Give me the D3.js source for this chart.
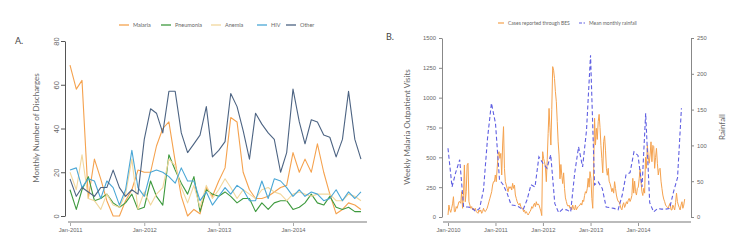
<!DOCTYPE html>
<html>
<head>
<meta charset="utf-8">
<script src="https://cdn.jsdelivr.net/npm/d3@7"></script>
<style>
  body { margin: 0; background: #fff; }
  svg { display: block; font-family: Lato, "Open Sans", sans-serif; }
</style>
</head>
<body>
<svg id="chart" width="750" height="250"></svg>
<script>
(() => {

  // ---- data, panel A: monthly discharges, Jan-2011 .. Dec-2014
  const startA = new Date(2011, 0, 1);
  const seriesNamesA = ['Malaria', 'Pneumonia', 'Anemia', 'HIV', 'Other'];
  const malaria   = [69,58,62,8,26,17,7,0,0,7,12,21,20,20,32,40,43,25,9,0,3,1,13,9,16,22,45,43,20,12,8,8,9,11,13,14,29,20,26,20,33,20,10,1,3,6,5,3];
  const pneumonia = [12,3,12,18,7,8,10,6,4,6,10,3,4,16,9,5,28,21,15,10,18,2,12,10,9,11,9,6,8,8,2,6,3,6,7,7,3,4,6,10,6,5,9,4,3,4,2,2];
  const anemia    = [20,12,28,8,7,3,10,5,4,10,26,3,11,5,10,13,26,23,13,6,14,4,14,8,12,17,13,8,12,10,8,12,13,11,10,7,10,11,10,9,10,10,10,7,7,10,9,7];
  const hiv       = [21,22,13,17,16,8,16,13,5,12,30,13,9,20,21,20,18,15,22,16,16,7,11,5,9,13,10,14,12,7,7,16,8,17,16,13,9,12,9,11,10,7,8,12,7,11,8,11];
  const other     = [17,9,13,11,9,13,13,21,13,9,12,10,35,49,47,38,57,57,38,29,33,37,50,27,30,34,56,50,39,26,47,42,38,35,20,29,58,43,33,44,43,37,36,27,35,57,35,26];
  const yTicksA = [0, 20, 40, 60, 80];
  const xTicksA = ['Jan-2011', 'Jan-2012', 'Jan-2013', 'Jan-2014'];

  // ---- data, panel B: weekly malaria visits (from Jan-2010) and monthly rainfall
  const startB = new Date(2010, 0, 1);
  const seriesNamesB = ['Cases reported through BES', 'Mean monthly rainfall'];
  const weeklyCases = [
    17,100,59,39,73,110,170,45,45,87,
    73,100,128,128,115,212,73,180,436,128,
    212,436,450,128,100,73,87,59,73,59,
    73,45,40,31,59,45,59,31,45,73,
    50,45,59,73,100,128,156,184,212,268,
    296,296,352,296,408,520,547,491,533,352,
    603,757,408,296,268,240,212,254,240,254,
    226,282,240,268,184,156,128,110,100,115,
    87,73,73,45,59,31,45,30,17,31,
    45,59,87,73,100,115,87,128,100,110,
    100,73,50,12,547,490,463,420,296,480,
    700,910,750,603,900,1260,1230,1160,1050,966,
    800,630,520,320,440,350,280,370,240,160,
    130,100,90,100,73,85,60,100,70,59,
    100,60,75,87,95,100,115,100,142,130,
    180,212,200,240,324,250,380,324,156,73,
    408,827,603,743,650,800,860,750,600,490,
    370,631,680,560,408,350,408,300,280,250,
    212,240,200,296,240,184,150,130,128,100,
    73,60,100,120,80,100,128,110,140,156,
    130,150,180,324,200,300,212,184,240,250,
    320,400,300,212,180,240,200,500,408,600,
    500,450,520,630,463,600,590,408,500,575,
    450,352,400,408,300,240,184,150,128,100,
    90,80,73,100,115,60,59,100,80,59,
    120,200,130,100,80,59,100,128,73,100,150
  ];
  const rainfall = [96,42,62,80,14,14,13,8,12,38,110,159,131,52,45,33,17,16,14,10,24,45,42,84,75,68,87,19,6,11,10,7,61,98,70,121,226,45,49,40,14,13,12,10,30,59,62,91,86,42,145,20,7,12,11,11,12,35,55,152];
  const yTicksB = [0, 250, 500, 750, 1000, 1250, 1500];
  const yTicksRain = [0, 50, 100, 150, 200, 250];
  const xTicksB = ['Jan-2010', 'Jan-2011', 'Jan-2012', 'Jan-2013', 'Jan-2014'];

  const colorsA = ['#f5a24e', '#3e9a3e', '#f2d79c', '#4aa7d6', '#4d6483'];
  const orange = '#f5a24e';
  const blue = '#5f5fe2';
  const textColor = '#666';

  const parseTick = d3.timeParse('%b-%Y');
  const fmtTick = d3.timeFormat('%b-%Y');

  const svg = d3.select('#chart');

  // ================= panel A =================
  const monthsA = malaria.map((d, i) => d3.timeMonth.offset(startA, i));
  const xA = d3.scaleTime()
    .domain([new Date(2011, 0, 1), new Date(2014, 0, 1)])
    .range([70, 293]);
  const yA = d3.scaleLinear().domain([0, 80]).range([216, 41]);

  const seriesA = [malaria, pneumonia, anemia, hiv, other];
  const lineA = d3.line()
    .x((d, i) => xA(monthsA[i]))
    .y(d => yA(d));

  svg.append('g').selectAll('path')
    .data(seriesA)
    .enter()
    .append('path')
    .attr('fill', 'none')
    .attr('stroke', (d, i) => colorsA[i])
    .attr('stroke-width', 1.1)
    .attr('stroke-linejoin', 'round')
    .attr('d', d => lineA(d));

  // y axis A, rotated labels
  const yAxisA = svg.append('g')
    .attr('transform', `translate(65,0)`)
    .call(d3.axisLeft(yA).tickValues(yTicksA).tickSize(4).tickSizeOuter(0));
  yAxisA.select('.domain').attr('stroke', '#555');
  yAxisA.selectAll('.tick line').attr('stroke', '#555');
  yAxisA.selectAll('.tick text')
    .attr('x', null).attr('dy', null)
    .attr('transform', 'translate(-6.5,0) rotate(-90)')
    .attr('text-anchor', 'middle')
    .attr('fill', textColor)
    .style('font-size', '7.5px');

  // x axis A
  const xAxisA = svg.append('g')
    .attr('transform', 'translate(0,222)')
    .call(d3.axisBottom(xA).tickValues(xTicksA.map(parseTick)).tickFormat(fmtTick).tickSize(4));
  xAxisA.select('.domain').remove();
  xAxisA.append('line')
    .attr('x1', xA.range()[0] - 2).attr('x2', xA(monthsA[monthsA.length - 1]) + 6)
    .attr('stroke', '#bbb').attr('stroke-width', 2);
  xAxisA.selectAll('.tick line').attr('stroke', '#aaa');
  xAxisA.selectAll('.tick text')
    .attr('y', 6)
    .attr('fill', textColor)
    .style('font-size', '5.8px');

  svg.append('text')
    .attr('transform', 'translate(39,128) rotate(-90)')
    .attr('text-anchor', 'middle')
    .attr('fill', textColor)
    .style('font-size', '8px')
    .text('Monthly Number of Discharges');

  svg.append('text')
    .attr('x', 15).attr('y', 44)
    .attr('fill', '#444')
    .style('font-size', '9px')
    .text('A.');

  // legend A
  const legendA = svg.append('g').attr('transform', 'translate(119,25)');
  const legendXA = [0, 42, 92, 138, 167];
  seriesNamesA.forEach((name, i) => {
    const g = legendA.append('g').attr('transform', `translate(${legendXA[i]},0)`);
    g.append('line').attr('x1', 0).attr('x2', 10)
      .attr('stroke', colorsA[i]).attr('stroke-width', 1.3);
    g.append('text').attr('x', 14).attr('dy', '0.35em')
      .attr('fill', textColor).style('font-size', '5.5px').text(name);
  });

  // ================= panel B =================
  const weeksB = weeklyCases.map((d, i) => d3.timeDay.offset(startB, 7 * i));
  const monthsB = rainfall.map((d, i) => d3.timeMonth.offset(startB, i));
  const xB = d3.scaleTime()
    .domain([new Date(2010, 0, 1), new Date(2014, 0, 1)])
    .range([448, 638]);
  const yB = d3.scaleLinear().domain([0, 1500]).range([217, 38]);
  const yRain = d3.scaleLinear().domain([0, 250]).range([217, 38]);

  svg.append('path')
    .datum(weeklyCases)
    .attr('fill', 'none')
    .attr('stroke', orange)
    .attr('stroke-width', 1)
    .attr('d', d3.line().x((d, i) => xB(weeksB[i])).y(d => yB(d)));

  svg.append('path')
    .datum(rainfall)
    .attr('fill', 'none')
    .attr('stroke', blue)
    .attr('stroke-width', 1.1)
    .attr('stroke-dasharray', '4,2.5')
    .attr('d', d3.line().x((d, i) => xB(monthsB[i])).y(d => yRain(d)));

  const styleAxisB = (g) => {
    g.select('.domain').attr('stroke', '#888');
    g.selectAll('.tick line').attr('stroke', '#888');
    g.selectAll('.tick text').attr('fill', textColor).style('font-size', '5.8px');
  };

  svg.append('g')
    .attr('transform', 'translate(442,0)')
    .call(d3.axisLeft(yB).tickValues(yTicksB).tickFormat(d3.format('d')).tickSize(3).tickSizeOuter(0))
    .call(styleAxisB);

  svg.append('g')
    .attr('transform', 'translate(691,0)')
    .call(d3.axisRight(yRain).tickValues(yTicksRain).tickFormat(d3.format('d')).tickSize(3).tickSizeOuter(0))
    .call(styleAxisB);

  const xAxisB = svg.append('g')
    .attr('transform', 'translate(0,222)')
    .call(d3.axisBottom(xB).tickValues(xTicksB.map(parseTick)).tickFormat(fmtTick).tickSize(4));
  xAxisB.select('.domain').remove();
  xAxisB.append('line')
    .attr('x1', 443).attr('x2', 691)
    .attr('stroke', '#bbb').attr('stroke-width', 2);
  xAxisB.selectAll('.tick line').attr('stroke', '#999');
  xAxisB.selectAll('.tick text')
    .attr('y', 6)
    .attr('fill', textColor)
    .style('font-size', '5.8px');

  svg.append('text')
    .attr('transform', 'translate(410,127) rotate(-90)')
    .attr('text-anchor', 'middle')
    .attr('fill', textColor)
    .style('font-size', '8px')
    .text('Weekly Malaria Outpatient Visits');

  svg.append('text')
    .attr('transform', 'translate(725,127) rotate(-90)')
    .attr('text-anchor', 'middle')
    .attr('fill', textColor)
    .style('font-size', '8px')
    .text('Rainfall');

  svg.append('text')
    .attr('x', 386).attr('y', 40)
    .attr('fill', '#444')
    .style('font-size', '9px')
    .text('B.');

  // legend B
  const legendB = svg.append('g').attr('transform', 'translate(498,23)');
  const legendXB = [0, 81];
  seriesNamesB.forEach((name, i) => {
    const g = legendB.append('g').attr('transform', `translate(${legendXB[i]},0)`);
    g.append('line').attr('x1', 0).attr('x2', 6)
      .attr('stroke', i === 0 ? orange : blue).attr('stroke-width', 1.2)
      .attr('stroke-dasharray', i === 0 ? null : '3,1.5');
    g.append('text').attr('x', 10).attr('dy', '0.35em')
      .attr('fill', textColor).style('font-size', '5px').text(name);
  });

})();
</script>
</body>
</html>
